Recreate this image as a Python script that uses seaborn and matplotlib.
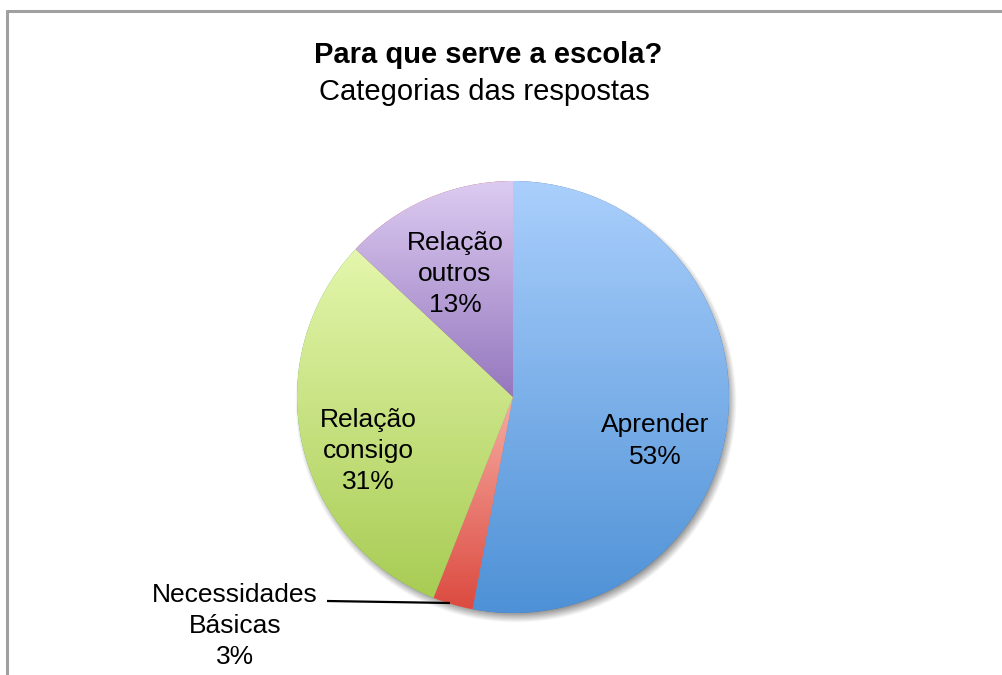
import numpy as np
import matplotlib
matplotlib.use("Agg")
import matplotlib.pyplot as plt
from matplotlib.lines import Line2D
import seaborn as sns

# chart data
categorias = ["Aprender", "Necessidades\nBásicas", "Relação\nconsigo", "Relação\noutros"]
percentagens = [53, 3, 31, 13]
titulo = "Para que serve a escola?"
subtitulo = "Categorias das respostas"

# gradient colours per slice (top -> bottom)
cores_topo = ["#aacffc", "#f6ada3", "#e4f6ac", "#dccbf1"]
cores_base = ["#4e91d6", "#dc4a40", "#a8cc54", "#9577be"]

sns.set_theme(style="white")
plt.rcParams["font.family"] = ["Liberation Sans", "DejaVu Sans"]
plt.rcParams["text.color"] = "black"

W, H = 1003, 675
fig = plt.figure(figsize=(W / 100, H / 100), dpi=100)
ax = fig.add_axes([0, 0, 1, 1])

cx, cy, r = 513, H - 397, 216

# soft drop shadow under the pie
gx = np.linspace(cx - r - 30, cx + r + 30, 600)
gy = np.linspace(cy - r - 30, cy + r + 30, 600)
XX, YY = np.meshgrid(gx, gy)
d = np.hypot(XX - (cx + 3), YY - (cy - 5))
alpha = 0.6 * np.clip((r + 5 - d) / 10, 0, 1)
sombra = np.zeros(XX.shape + (4,))
sombra[..., :3] = 0.3
sombra[..., 3] = alpha
ax.imshow(sombra, extent=[gx[0], gx[-1], gy[0], gy[-1]], origin="lower",
          interpolation="bilinear", zorder=0)

wedges, _ = ax.pie(percentagens, startangle=90, counterclock=False,
                   center=(cx, cy), radius=r, wedgeprops=dict(linewidth=0))

for w, c0, c1 in zip(wedges, cores_topo, cores_base):
    w.set_zorder(1)
    ext = w.get_path().get_extents()
    grad = np.array(sns.blend_palette([c0, c1], n_colors=256)).reshape(256, 1, 3)
    im = ax.imshow(grad, extent=[ext.x0, ext.x1, ext.y0, ext.y1], origin="upper",
                   interpolation="bilinear", aspect="auto", zorder=2)
    im.set_clip_path(w)

# slice labels
fs = 19
ls = 1.38
ax.text(655, H - 441, f"{categorias[0]}\n{percentagens[0]}%", ha="center", va="center",
        fontsize=fs, linespacing=ls, zorder=3)
ax.text(455, H - 274, f"{categorias[3]}\n{percentagens[3]}%", ha="center", va="center",
        fontsize=fs, linespacing=ls, zorder=3)
ax.text(368, H - 451, f"{categorias[2]}\n{percentagens[2]}%", ha="center", va="center",
        fontsize=fs, linespacing=ls, zorder=3)
ax.text(235, H - 626, f"{categorias[1]}\n{percentagens[1]}%", ha="center", va="center",
        fontsize=fs, linespacing=ls, zorder=3)
ax.plot([327, 450], [H - 601, H - 603], color="black", lw=1.6, zorder=3,
        solid_capstyle="butt")

# titles
ax.text(488, H - 55, titulo, ha="center", va="center", fontsize=21,
        fontweight="bold", zorder=3)
ax.text(484, H - 92, subtitulo, ha="center", va="center", fontsize=21, zorder=3)

ax.set_xlim(0, W)
ax.set_ylim(0, H)
ax.set_aspect("equal")
ax.axis("off")

# chart frame (left and top edges visible)
fig.add_artist(Line2D([7 / W, 7 / W], [0, 1 - 11 / H], color="#a0a0a0", lw=2.2,
                      transform=fig.transFigure))
fig.add_artist(Line2D([7 / W, 1.01], [1 - 11 / H, 1 - 11 / H], color="#a0a0a0", lw=2.2,
                      transform=fig.transFigure))

fig.savefig("out.png", dpi=100, facecolor="white")
